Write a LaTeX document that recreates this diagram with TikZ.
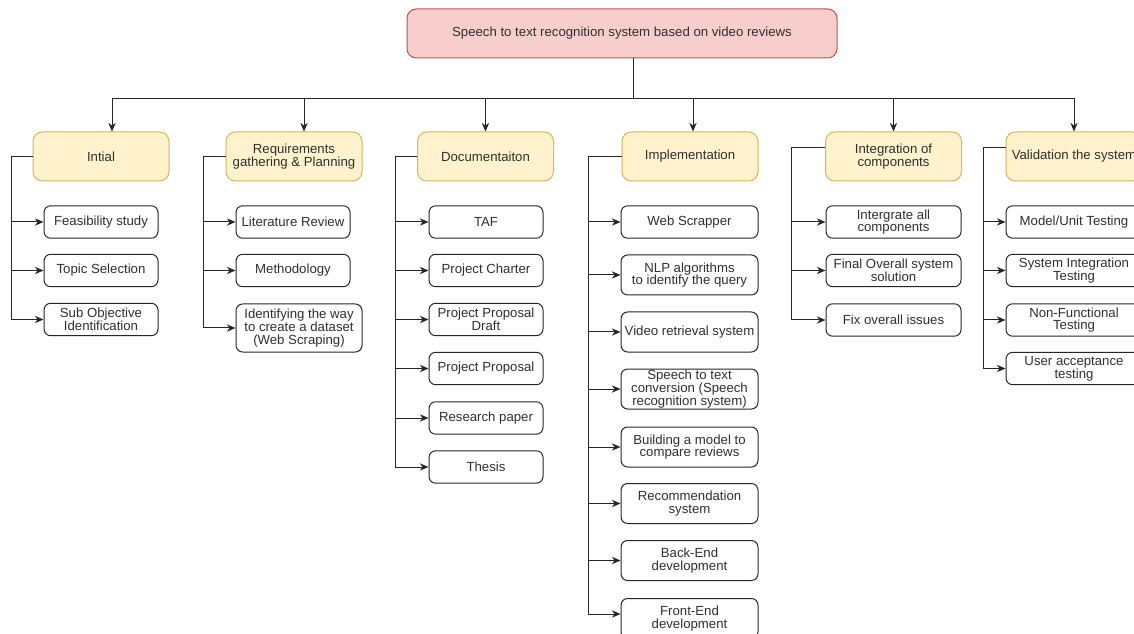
\documentclass[tikz,border=0pt]{standalone}
\usepackage{fontspec}
\setmainfont{Liberation Sans}
\usetikzlibrary{arrows.meta,calc}
\definecolor{topfill}{HTML}{F8CECC}
\definecolor{topdraw}{HTML}{B85450}
\definecolor{phfill}{HTML}{FFF2CC}
\definecolor{phdraw}{HTML}{D6B656}
\definecolor{txt}{HTML}{303030}
\tikzset{
 base/.style={line width=0.75pt, align=center, inner sep=0pt, text=txt, font=\fontsize{9.9}{9.5}\selectfont},
 rootbox/.style={base, rounded corners=7pt, draw=topdraw, fill=topfill, minimum width=322.5pt, minimum height=36.75pt},
 phasebox/.style={base, rounded corners=7pt, draw=phdraw, fill=phfill, minimum width=102pt, minimum height=36.75pt},
 taskbox/.style={base, rounded corners=5pt, draw=black!85, fill=white},
 wA/.style={taskbox, minimum width=85.5pt},
 wB/.style={taskbox, minimum width=94.5pt},
 wC/.style={taskbox, minimum width=102.75pt},
 wD/.style={taskbox, minimum width=101.25pt},
 wE/.style={taskbox, minimum width=102pt},
 hS/.style={minimum height=24.3pt},
 hM/.style={minimum height=30pt},
 hL/.style={minimum height=36pt},
 conn/.style={line width=0.75pt, draw=black!85},
 arr/.style={conn, -{Stealth[length=6.5pt,width=5.5pt]}},
}
\begin{document}
\begin{tikzpicture}[x=0.75pt,y=-0.75pt]
\useasboundingbox (0,0) rectangle (1134,634);
\clip (0,0) rectangle (1134,634);
\fill[white] (0,0) rectangle (1134,634);

% root
\node[rootbox] (root) at (622,33.5) {Speech to text recognition system based on video reviews};

% phases
\node[phasebox] (ini) at (101,156.5) {Intial};
\node[phasebox] (req) at (294,156.5) {Requirements\\gathering \& Planning};
\node[phasebox] (doc) at (485.5,156.5) {Documentaiton};
\node[phasebox] (imp) at (690,156.5) {Implementation};
\node[phasebox] (int) at (893.5,156.5) {Integration of\\components};
\node[phasebox] (val) at (1074,156.5) {Validation the system};

% Initial
\node[wA,hS] (fea) at (101,222) {Feasibility study};
\node[wA,hS] (tps) at (101,270.5) {Topic Selection};
\node[wA,hS] (sub) at (101,319.5) {Sub Objective\\Identification};

% Requirements
\node[wA,hS] (lit) at (293,222) {Literature Review};
\node[wA,hS] (met) at (293,270.5) {Methodology};
\node[wB,hL] (idt) at (299,328) {Identifying the way\\to create a dataset\\(Web Scraping)};

% Documentation
\node[wA,hS] (taf) at (486,222) {TAF};
\node[wA,hS] (chr) at (486,270.5) {Project Charter};
\node[wA,hS] (drf) at (486,319.5) {Project Proposal\\Draft};
\node[wA,hS] (ppr) at (486,368.5) {Project Proposal};
\node[wA,hS] (res) at (486,418) {Research paper};
\node[wA,hS] (ths) at (486,467) {Thesis};

% Implementation
\node[wC,hS] (web) at (689.5,222) {Web Scrapper};
\node[wC,hM] (nlp) at (689.5,275) {NLP algorithms\\to identify the query};
\node[wC,hM] (vid) at (689.5,332) {Video retrieval system};
\node[wC,hM] (spt) at (689.5,389) {Speech to text\\conversion (Speech\\recognition system)};
\node[wC,hM] (bld) at (689.5,447) {Building a model to\\compare reviews};
\node[wC,hM] (rec) at (689.5,503.5) {Recommendation\\system};
\node[wC,hM] (bck) at (689.5,560.5) {Back-End\\development};
\node[wC,hM] (frn) at (689.5,618.5) {Front-End\\development};

% Integration
\node[wD,hS] (iac) at (893.5,222) {Intergrate all\\components};
\node[wD,hS] (fos) at (893.5,270.5) {Final Overall system\\solution};
\node[wD,hS] (fix) at (893.5,320) {Fix overall issues};

% Validation
\node[wE,hS] (mut) at (1074,222) {Model/Unit Testing};
\node[wE,hS] (sit) at (1074,270.5) {System Integration\\Testing};
\node[wE,hS] (nft) at (1074,320) {Non-Functional\\Testing};
\node[wE,hS] (uat) at (1074,368.5) {User acceptance\\testing};

% root to phases
\coordinate (bus) at (633,99);
\draw[conn] (root.south -| bus) -- (bus);
\draw[arr] (bus) -| ([xshift=8.25pt]ini.north);
\draw[arr] (bus) -| ([xshift=7.5pt]req.north);
\draw[arr] (bus) -| (doc.north);
\draw[arr] (bus) -| ([xshift=2.25pt]imp.north);
\draw[arr] (bus) -| (int.north);
\draw[arr] (bus) -| (val.north);

% trunks
\coordinate (tini) at (11,0);
\coordinate (treq) at (203,0);
\coordinate (tdoc) at (395,0);
\coordinate (timp) at (588,0);
\coordinate (tint) at (791,0);
\coordinate (tval) at (983,0);

\foreach \c in {fea,tps,sub}
  \draw[arr] (ini.west) -| (tini |- \c.west) -- (\c.west);
\foreach \c in {lit,met,idt}
  \draw[arr] (req.west) -| (treq |- \c.west) -- (\c.west);
\foreach \c in {taf,chr,drf,ppr,res,ths}
  \draw[arr] (doc.west) -| (tdoc |- \c.west) -- (\c.west);
\foreach \c in {web,nlp,vid,spt,bld,rec,bck}
  \draw[arr] (imp.west) -| (timp |- \c.west) -- (\c.west);
\draw[arr] (imp.west) -| ($(timp |- frn.west)+(0,-4.5)$) -- ($(frn.west)+(0,-4.5)$);
\foreach \c in {iac,fos,fix}
  \draw[arr] ([yshift=6.4pt]int.west) -| (tint |- \c.west) -- (\c.west);
\foreach \c in {mut,sit,nft,uat}
  \draw[arr] ([yshift=6.4pt]val.west) -| (tval |- \c.west) -- (\c.west);
\end{tikzpicture}
\end{document}
